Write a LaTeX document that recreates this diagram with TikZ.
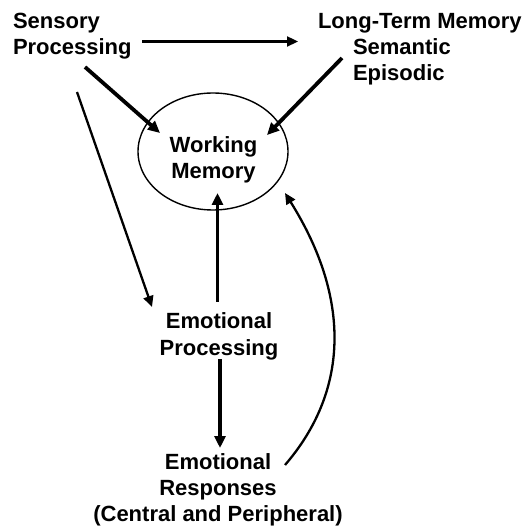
\documentclass[tikz,border=0pt]{standalone}
\usepackage{fontspec}
\setmainfont{Liberation Sans}
\usetikzlibrary{arrows.meta,shapes.geometric}
\begin{document}
\begin{tikzpicture}[x=1pt,y=-1pt,
  lbl/.style={font=\fontsize{22}{26}\selectfont\bfseries, inner sep=0pt, outer sep=0pt},
  thickarrow/.style={line width=3.8pt, -{Triangle[length=12pt,width=11pt]}},
  thinarrow/.style={line width=2.3pt, -{Triangle[length=11pt,width=10pt]}},
  bubble/.style={draw, ellipse, line width=1.4pt, inner sep=0pt}]
\useasboundingbox (0,0) rectangle (527,526);
% nodes (base anchor = baseline of the last line)
\node[lbl, anchor=base west, align=left] (sp) at (13,55) {Sensory\\Processing};
\node[lbl, anchor=base west] (ltm) at (318,28.5) {Long-Term Memory};
\node[lbl, anchor=base west, align=left] (sem) at (353,81) {Semantic\\Episodic};
\node[bubble, minimum width=150pt, minimum height=117pt] (wm) at (213,151.5) {};
\node[lbl, anchor=base, align=center] (wmt) at (213.5,178.5) {Working\\Memory};
\node[lbl, anchor=base, align=center] (ep) at (219,355) {Emotional\\Processing};
\node[lbl, anchor=base, align=center] (er) at (218,521) {Emotional\\Responses\\(Central and Peripheral)};
% connector end points
\coordinate (h1) at (142,41.5);
\coordinate (h2) at (298,41.5);
\coordinate (s1) at (85,67);
\coordinate (s2) at (160,133);
\coordinate (l1) at (342,58);
\coordinate (l2) at (267,135);
\coordinate (d1) at (77,92);
\coordinate (d2) at (152,307);
\coordinate (u1) at (217.5,302);
\coordinate (u2) at (217.5,193);
\coordinate (v1) at (220,359);
\coordinate (v2) at (220,448);
\coordinate (c1) at (285,465);
\coordinate (c2) at (285,193);
% connectors
\draw[thinarrow] (h1) -- (h2);
\draw[thickarrow] (s1) -- (s2);
\draw[thickarrow] (l1) -- (l2);
\draw[thinarrow] (d1) -- (d2);
\draw[thickarrow] (u1) -- (u2);
\draw[thickarrow] (v1) -- (v2);
\draw[thinarrow] (c1) .. controls (348,392) and (352,300) .. (c2);
\end{tikzpicture}
\end{document}
